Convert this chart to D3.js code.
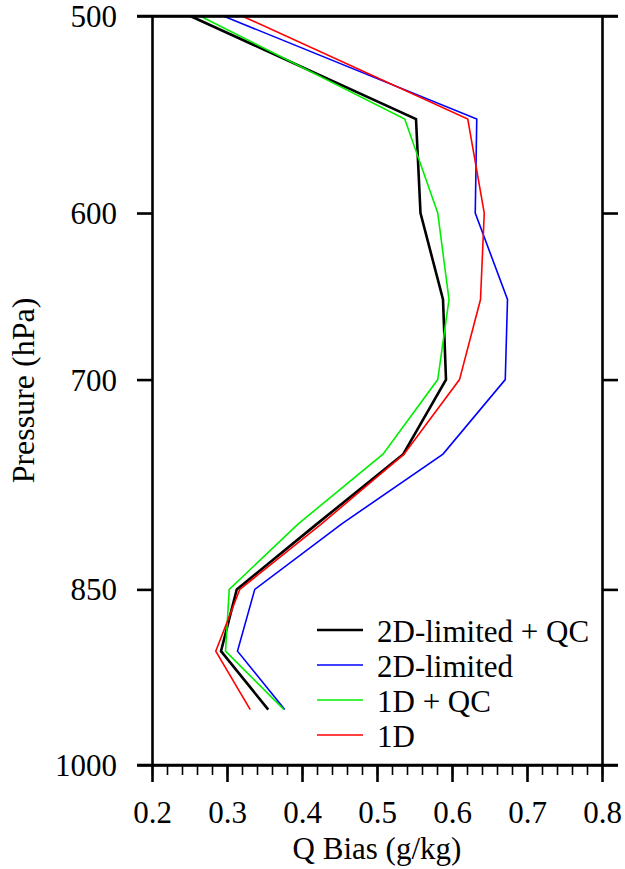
<!DOCTYPE html>
<html>
<head>
<meta charset="utf-8">
<script src="https://cdn.jsdelivr.net/npm/d3@7"></script>
<style>
  html, body { margin: 0; padding: 0; background: #fff; }
  svg { display: block; }
</style>
</head>
<body>
<svg id="chart" width="625" height="869"></svg>
<script>
// ---- data ----
const pressureLevels = [500, 550, 600, 650, 700, 750, 800, 850, 900, 950];
const series2DLimitedQC = [0.251, 0.552, 0.558, 0.588, 0.592, 0.535, 0.420, 0.313, 0.292, 0.355];
const series2DLimited   = [0.295, 0.633, 0.631, 0.674, 0.671, 0.588, 0.453, 0.337, 0.314, 0.377];
const series1DQC        = [0.264, 0.537, 0.581, 0.596, 0.581, 0.508, 0.395, 0.303, 0.298, 0.376];
const series1D          = [0.320, 0.621, 0.643, 0.638, 0.610, 0.536, 0.426, 0.317, 0.285, 0.331];
const seriesNames  = ["2D-limited + QC", "2D-limited", "1D + QC", "1D"];
const seriesColors = ["#000000", "#0000ff", "#00ee00", "#ff0000"];
const seriesWidths = [2.6, 1.6, 1.6, 1.6];
const xTickValues = [0.2, 0.3, 0.4, 0.5, 0.6, 0.7, 0.8];
const yTickValues = [500, 600, 700, 850, 1000];
const xTitle = "Q Bias (g/kg)";
const yTitle = "Pressure (hPa)";

(function () {
const FONT = "'Liberation Serif', 'Times New Roman', serif";
const allSeries = [series2DLimitedQC, series2DLimited, series1DQC, series1D];

const svg = d3.select("#chart");
svg.append("rect").attr("width", 625).attr("height", 869).attr("fill", "#fff");

const pLeft = 152, pRight = 602, pTop = 16, pBottom = 765;
const x = d3.scaleLinear().domain([0.2, 0.8]).range([pLeft, pRight]);
const y = d3.scaleLog().domain([500, 1000]).range([pTop, pBottom]);

// series lines
const line = d3.line().x(d => x(d[0])).y(d => y(d[1]));
allSeries.forEach((vals, i) => {
  svg.append("path")
    .datum(vals.map((v, j) => [v, pressureLevels[j]]))
    .attr("d", line)
    .attr("fill", "none")
    .attr("stroke", seriesColors[i])
    .attr("stroke-width", seriesWidths[i])
    .attr("stroke-linejoin", "miter");
});

// axes
const axisStroke = 2.6;
function styleAxis(g) {
  g.selectAll("path.domain").attr("stroke", "#000").attr("stroke-width", axisStroke);
  g.selectAll(".tick line").attr("stroke", "#000").attr("stroke-width", axisStroke);
}

// left axis
const gLeft = svg.append("g").attr("transform", `translate(${pLeft},0)`)
  .call(d3.axisLeft(y).tickValues(yTickValues).tickSize(15).tickSizeOuter(0)
        .tickPadding(20).tickFormat(d3.format("d")));
styleAxis(gLeft);
gLeft.selectAll("text").attr("dy", "0.34em").attr("fill", "#000")
  .style("font-family", FONT).style("font-size", "31px");

// right axis
const gRight = svg.append("g").attr("transform", `translate(${pRight},0)`)
  .call(d3.axisRight(y).tickValues(yTickValues).tickSize(16).tickSizeOuter(0).tickFormat(""));
styleAxis(gRight);

// top axis (frame only)
const gTop = svg.append("g").attr("transform", `translate(0,${pTop})`)
  .call(d3.axisTop(x).tickValues([]).tickSizeOuter(0));
styleAxis(gTop);

// bottom axis minor ticks
const minorVals = d3.range(0, 31).map(i => 0.2 + i * 0.02);
const gMinor = svg.append("g").attr("transform", `translate(0,${pBottom})`)
  .call(d3.axisBottom(x).tickValues(minorVals).tickSize(10).tickSizeOuter(0).tickFormat(""));
gMinor.selectAll("path.domain").remove();
gMinor.selectAll(".tick line").attr("stroke", "#000").attr("stroke-width", 1.6);

// bottom axis major ticks
const gBottom = svg.append("g").attr("transform", `translate(0,${pBottom})`)
  .call(d3.axisBottom(x).tickValues(xTickValues).tickSize(17).tickSizeOuter(0)
        .tickFormat(d3.format(".1f")));
styleAxis(gBottom);
gBottom.selectAll("text").attr("y", 58).attr("dy", 0).attr("fill", "#000")
  .style("font-family", FONT).style("font-size", "31px");

// extend frame lines past the corners (ticks at 500/1000 on both sides)
svg.append("line").attr("x1", pLeft - 15).attr("x2", pRight + 16).attr("y1", pTop).attr("y2", pTop)
  .attr("stroke", "#000").attr("stroke-width", axisStroke);
svg.append("line").attr("x1", pLeft - 15).attr("x2", pRight + 16).attr("y1", pBottom).attr("y2", pBottom)
  .attr("stroke", "#000").attr("stroke-width", axisStroke);

// axis titles
svg.append("text").attr("x", (pLeft + pRight) / 2).attr("y", 859)
  .attr("text-anchor", "middle").style("font-family", FONT).style("font-size", "31px").text(xTitle);
svg.append("text").attr("transform", `translate(34,${(pTop + pBottom) / 2}) rotate(-90)`)
  .attr("text-anchor", "middle").style("font-family", FONT).style("font-size", "32px").text(yTitle);

// legend
const legendX1 = 317, legendX2 = 363, legendTextX = 377;
const legendY0 = 630, legendDY = 35;
seriesNames.forEach((name, i) => {
  const ly = legendY0 + i * legendDY;
  svg.append("line").attr("x1", legendX1).attr("x2", legendX2).attr("y1", ly).attr("y2", ly)
    .attr("stroke", seriesColors[i]).attr("stroke-width", seriesWidths[i]);
  svg.append("text").attr("x", legendTextX).attr("y", ly + 12)
    .style("font-family", FONT).style("font-size", "31px").text(name);
});
})();
</script>
</body>
</html>
